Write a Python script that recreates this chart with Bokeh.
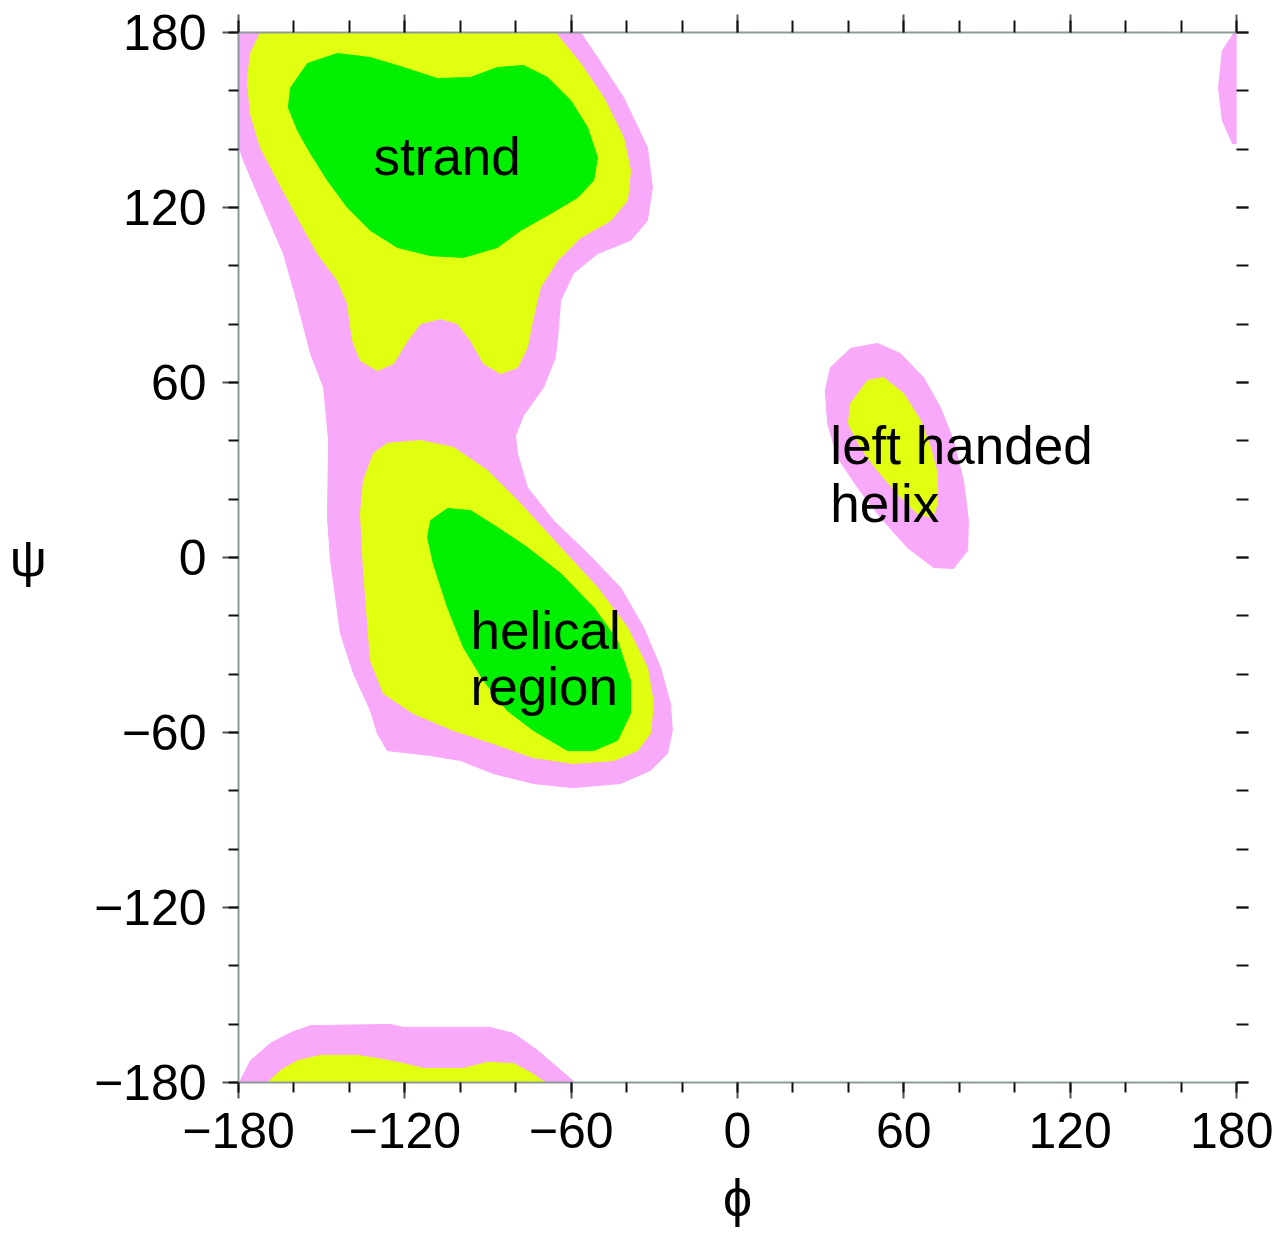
from bokeh.plotting import figure
from bokeh.models import LinearAxis, FixedTicker, Range1d, CustomLabelingPolicy
from bokeh.core.properties import value
from bokeh.embed import file_html
from bokeh.resources import INLINE

# ---- data (phi, psi in degrees) ----
tick_values = [-180, -120, -60, 0, 60, 120, 180]
tick_labels = ["\u2212180", "\u2212120", "\u221260", "0", "60", "120", "180"]
minor_values = [v for v in range(-180, 181, 20)]

# allowed (pink) regions
pink_main_phi = [-180, -56.6, -50.5, -41.1, -32.5, -30.7, -32.5, -38.6, -50.5, -59.2, -63.8, -64.9, -65.7, -70, -77.2,
                 -80.1, -79.4, -75.8, -66.4, -54.1, -42.2, -33.9, -27.8, -24.2, -23.5, -25.3, -31.4, -42.2, -59.2,
                 -73.6, -88, -99.9, -110.7, -126.3, -129.9, -132.4, -138.5, -143.2, -146.8, -147.9, -147.5, -149.3,
                 -154, -158.7, -163.8, -171, -178.2, -180]
pink_main_psi = [180, 180, 171.4, 157.7, 140.6, 126.9, 115.5, 108.7, 104.2, 97.4, 88.1, 75.4, 68.6, 58.3, 48.7,
                 41.8, 35.7, 24, 12.7, 1.4, -10.3, -24, -37.7, -50.1, -59.3, -67.2, -73, -77.5, -78.9,
                 -77.5, -74.1, -69.6, -67.9, -66.2, -60.3, -52.5, -39.8, -26.1, -1, 13.7, 40.1, 58.3,
                 69.9, 87.1, 104.2, 120, 136.1, 141.3]
pink_lh_phi = [33.5, 40.8, 50.5, 58.8, 67.1, 73.2, 77.9, 81.5, 83.3, 83, 77.9, 70.7, 61.3, 51.6, 43.3, 36.1, 32.5, 31.7]
pink_lh_psi = [65.1, 71.7, 73.4, 69.9, 61.7, 51.4, 40.1, 26.4, 12.7, 2.4, -3.8, -3.4, 3.4, 13.7, 24, 34.3, 45.9, 57.3]
pink_tr_phi = [180, 179.0, 174.9, 173.5, 174.9, 178.6, 180]
pink_tr_psi = [180, 179.7, 173.8, 161.1, 149.8, 141.9, 141.9]
pink_bot_phi = [-180, -179.3, -175.7, -168.5, -161.2, -154, -125.2, -120.5, -89.1, -80.8, -72.1, -64.9, -59.5, -58.8]
pink_bot_psi = [-180, -179.3, -172.5, -166.6, -162.9, -160.5, -160.1, -161.1, -161.1, -163.2, -169, -174.9, -179.3, -180]

# favoured (yellow) regions
yel_top_phi = [-172.1, -65.7, -56.6, -48.3, -41.1, -38.6, -39.7, -45.8, -56.6, -64.9, -71.1, -73.9, -75.8, -79.4,
               -85.5, -91.6, -96.3, -101, -107.1, -114.3, -119, -124.1, -129.9, -136, -138.9, -140.7, -144.3,
               -151.5, -158.7, -165.9, -172.1, -175.7, -176.8, -175.7]
yel_top_psi = [180, 180, 169.4, 157.7, 144, 132.7, 122.4, 115.5, 109.7, 101.8, 92.6, 81.3, 72, 65.1,
               63.1, 66.5, 74.4, 80.2, 81.9, 80.2, 74.4, 66.5, 64.1, 67.5, 74.4, 87.1, 95,
               104.2, 116.6, 129.3, 140.6, 152.2, 163.5, 172.8]
yel_hel_phi = [-126.3, -114.3, -102.4, -90.2, -78.3, -63.8, -50.5, -39.7, -32.5, -30.3, -31.4, -36.1, -44.7, -59.2,
               -73.6, -88, -102.4, -116.9, -127.7, -132.4, -133.5, -134.9, -136, -134.9, -131.3]
yel_hel_psi = [39.1, 40.1, 37.7, 29.8, 18.5, 3.4, -10.3, -24, -37.7, -50.1, -60.3, -66.2, -69.6, -70.6,
               -68.6, -63.8, -59.3, -53.5, -46.6, -35.3, -21.6, -4.5, 15.1, 26.4, 35.7]
yel_lh_phi = [40.8, 46.9, 52.7, 59.9, 66, 69.6, 72.1, 72.1, 70.3, 64.9, 57.7, 50.5, 44.4, 40]
yel_lh_psi = [52.8, 60.7, 61.7, 56.2, 47, 37.7, 28.8, 18.5, 13.7, 15.1, 21.9, 29.8, 37.7, 45.9]
yel_bot_phi = [-169.5, -164.8, -158.7, -150.4, -137.1, -129.9, -120.5, -113.3, -98.8, -90.2, -80.8, -74.7, -69.3]
yel_bot_psi = [-180, -175.9, -172.5, -170.7, -170.7, -171.8, -173.5, -175.2, -175.2, -173.1, -173.5, -176.6, -180]

# core (green) regions
grn_top_phi = [-161.2, -155.1, -144.3, -132.4, -120.5, -108.2, -96.3, -86.6, -77.2, -68.5, -60.2, -54.1, -50.5,
               -51.9, -57.7, -67.5, -78.3, -86.6, -98.8, -110.7, -122.6, -132.4, -140.7, -147.9, -154, -158.7, -162]
grn_top_psi = [161.1, 169.4, 172.8, 171.4, 168, 164.2, 164.6, 168, 168.7, 164.6, 156.7, 147.4, 137.1,
               129.3, 123.4, 117.9, 112.1, 106.3, 102.9, 103.5, 106.3, 112.1, 120, 129.3, 138.5, 146.4, 154.3]
grn_hel_phi = [-110.7, -104.6, -96.3, -86.6, -75.8, -63.8, -51.9, -43.3, -38.6, -38.6, -43.3, -51.9, -61.3, -73.6,
               -83, -91.6, -98.8, -104.6, -109.7, -111.8]
grn_hel_psi = [12.7, 16.8, 16.1, 10.3, 3.4, -5.5, -17.1, -28.5, -42.2, -53.5, -62.7, -66.2, -66.2, -59.3,
               -52.5, -42.2, -30.9, -17.1, -2.1, 6.9]

label_texts = ["strand", "helical", "region", "left handed", "helix"]
label_phi = [-131.3, -96.3, -96.3, 33.5, 33.5]
label_psi = [131.7, -30.9, -50.1, 32.6, 12.7]

PINK = "#F9A9F9"
YELLOW = "#E1FF10"
GREEN = "#00F000"
FONT = "Liberation Sans"

p = figure(width=1273, height=1244,
           x_range=Range1d(-180, 180), y_range=Range1d(-180, 180),
           output_backend="svg", toolbar_location=None,
           min_border_left=238, min_border_right=37, min_border_top=32, min_border_bottom=162)
p.grid.visible = False
p.outline_line_color = None
p.background_fill_color = "white"

for xs, ys in [(pink_main_phi, pink_main_psi), (pink_lh_phi, pink_lh_psi),
               (pink_tr_phi, pink_tr_psi), (pink_bot_phi, pink_bot_psi)]:
    p.patch(xs, ys, fill_color=PINK, line_color=PINK, line_width=1)
for xs, ys in [(yel_top_phi, yel_top_psi), (yel_hel_phi, yel_hel_psi),
               (yel_lh_phi, yel_lh_psi), (yel_bot_phi, yel_bot_psi)]:
    p.patch(xs, ys, fill_color=YELLOW, line_color=YELLOW, line_width=1)
for xs, ys in [(grn_top_phi, grn_top_psi), (grn_hel_phi, grn_hel_psi)]:
    p.patch(xs, ys, fill_color=GREEN, line_color=GREEN, line_width=1)

p.text(x=label_phi, y=label_psi, text=label_texts, text_font=value(FONT),
       text_font_size="53px", text_color="black", text_align="left", text_baseline="alphabetic",
       y_offset=-17)

overrides = {v: s for v, s in zip(tick_values, tick_labels)}
AXIS_COLOR = "#8c9a9a"
no_labels = CustomLabelingPolicy(code="return new Set()")


def style(ax, labels=True):
    ax.ticker = FixedTicker(ticks=tick_values, minor_ticks=minor_values)
    ax.axis_line_color = AXIS_COLOR
    ax.axis_line_width = 2
    ax.major_tick_line_color = "#4a5555"
    ax.minor_tick_line_color = "#111111"
    ax.major_tick_line_width = 2
    ax.minor_tick_line_width = 2
    ax.major_tick_in = 0
    ax.minor_tick_in = 0
    ax.major_tick_out = 16
    ax.minor_tick_out = 10
    if labels:
        ax.major_label_overrides = overrides
        ax.major_label_text_font = FONT
        ax.major_label_text_font_size = "50px"
        ax.major_label_text_color = "black"
    else:
        ax.major_label_policy = no_labels
        ax.major_label_text_font_size = "1px"
        ax.major_label_standoff = 0


xa = p.xaxis[0]
ya = p.yaxis[0]
style(xa)
style(ya)
xa.major_label_standoff = 14
ya.major_label_standoff = 16
xa.axis_label = "\u03d5"
ya.axis_label = "\u03c8"
for ax in (xa, ya):
    ax.axis_label_text_font = FONT
    ax.axis_label_text_font_size = "52px"
    ax.axis_label_text_font_style = "normal"
    ax.axis_label_text_color = "black"
xa.axis_label_standoff = 18
ya.axis_label_standoff = 44
ya.axis_label_orientation = "horizontal"

top = LinearAxis()
style(top, labels=False)
top.major_tick_out = 18
top.minor_tick_out = 12
p.add_layout(top, "above")

right = LinearAxis()
style(right, labels=False)
right.axis_line_color = None
right.major_tick_out = 12
right.minor_tick_out = 12
p.add_layout(right, "right")

open("out.html", "w").write(file_html(p, INLINE))
